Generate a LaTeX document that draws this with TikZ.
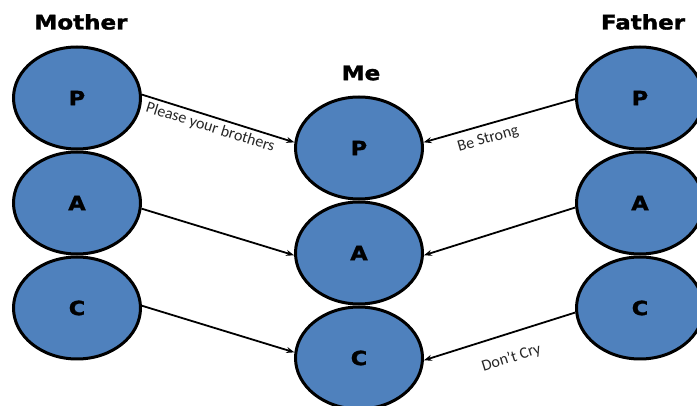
\documentclass[tikz,border=0pt]{standalone}
\usepackage{fontspec}
\setmainfont{Carlito}
\newfontfamily\heavyfont[FakeStretch=1.15, FakeBold=1.6]{DejaVu Sans}
\usetikzlibrary{shapes.geometric, arrows.meta}
\definecolor{roleblue}{RGB}{79,129,189}

\begin{document}
\begin{tikzpicture}[x=1pt, y=-1pt,
  role/.style={ellipse, draw=black, line width=3pt, fill=roleblue,
    minimum width=127pt, minimum height=102pt, inner sep=0pt,
    font=\heavyfont\bfseries\fontsize{19.5}{19.5}\selectfont},
  head/.style={font=\heavyfont\bfseries\fontsize{20}{20}\selectfont},
  link/.style={line width=1.8pt, -{Stealth[length=8pt, width=6pt]}},
  msg/.style={font=\fontsize{16}{16}\selectfont, text=black!85, sloped}
]
\useasboundingbox (0,0) rectangle (697,406);

% column headings
\node[head] (hMother) at (81,22) {Mother};
\node[head] (hMe)     at (361,73) {Me};
\node[head] (hFather) at (643,22) {Father};

% mother's states
\node[role] (mP) at (77,98)  {P};
\node[role] (mA) at (77,203) {A};
\node[role] (mC) at (77,308) {C};

% my states
\node[role] (meP) at (359,148) {P};
\node[role] (meA) at (359,253) {A};
\node[role] (meC) at (359,358) {C};

% father's states
\node[role] (fP) at (640,98)  {P};
\node[role] (fA) at (640,203) {A};
\node[role] (fC) at (640,308) {C};

% messages from mother
\draw[link] (mP.3) -- node[msg, below, pos=0.47] {Please your brothers} (meP.175);
\draw[link] (mA.-5) -- (meA.182);
\draw[link] (mC.2) -- (meC.175);

% messages from father
\draw[link] (fP.181) -- node[msg, below=4pt, pos=0.6] {Be Strong} (meP.5);
\draw[link] (fA.184) -- (meA.-2);
\draw[link] (fC.184) -- node[msg, below=13pt, pos=0.47] {Don't Cry} (meC.-2);
\end{tikzpicture}
\end{document}
